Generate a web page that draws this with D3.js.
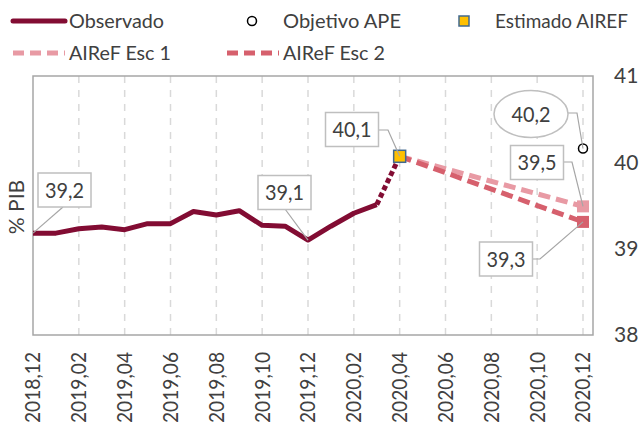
<!DOCTYPE html>
<html>
<head>
<meta charset="utf-8">
<script src="https://cdn.jsdelivr.net/npm/d3@7"></script>
<style>
  body { margin: 0; background: #fff; }
  text { font-family: Lato, "Open Sans", sans-serif; fill: #404040; }
</style>
</head>
<body>
<div id="chart"></div>
<script>
// DATA
let months = ['2018,12','2019,01','2019,02','2019,03','2019,04','2019,05','2019,06',
    '2019,07','2019,08','2019,09','2019,10','2019,11','2019,12','2020,01','2020,02',
    '2020,03','2020,04','2020,05','2020,06','2020,07','2020,08','2020,09','2020,10',
    '2020,11','2020,12'];

let observado = [39.18, 39.18, 39.23, 39.25, 39.22, 39.29, 39.29, 39.43, 39.39,
    39.44, 39.27, 39.26, 39.10, 39.26, 39.41, 39.51];

let estimadoMonth = '2020,04',
    estimadoValue = 40.07;

let escMonths = ['2020,04', '2020,12'];
let esc1 = [40.07, 39.49];
let esc2 = [40.07, 39.31];

let objetivoMonth = '2020,12',
    objetivoValue = 40.16;

let yTicks = [38, 39, 40, 41];
let legendNames = ['Observado', 'Objetivo APE', 'Estimado AIREF', 'AIReF Esc 1', 'AIReF Esc 2'];

// PLOTTING VARIABLES
let width = 639,
    height = 425;
let margin = {top: 76, right: 46, bottom: 90, left: 33};

let colObs = '#820c33',
    colEsc1 = '#e89aa4',
    colEsc2 = '#d6606d',
    colGrid = '#d9d9d9',
    colBorder = '#a6a6a6';

let svg = d3.select('#chart')
    .append('svg')
    .attr('width', width)
    .attr('height', height);

// Scales
let x = d3.scalePoint()
    .domain(months)
    .range([margin.left, 583]);

let y = d3.scaleLinear()
    .domain([38, 41])
    .range([height - margin.bottom, margin.top]);

// vertical dashed gridlines every 2 months
let gridMonths = months.filter((m, i) => i % 2 == 0 && i > 0);
svg.append('g')
    .selectAll('line')
    .data(gridMonths)
    .enter()
    .append('line')
    .attr('x1', d => x(d))
    .attr('x2', d => x(d))
    .attr('y1', margin.top)
    .attr('y2', height - margin.bottom)
    .attr('stroke', colGrid)
    .attr('stroke-width', 1.5)
    .attr('stroke-dasharray', '7,7');

// plot border
svg.append('rect')
    .attr('x', margin.left)
    .attr('y', margin.top)
    .attr('width', width - margin.right - margin.left)
    .attr('height', height - margin.bottom - margin.top)
    .attr('fill', 'none')
    .attr('stroke', colBorder)
    .attr('stroke-width', 1.5);

// x axis labels (rotated) - squeezed a bit so they stay inside the picture
let xLabelMonths = months.filter((m, i) => i % 2 == 0);
svg.append('g')
    .selectAll('text')
    .data(xLabelMonths)
    .enter()
    .append('text')
    .attr('transform', d => 'translate(' + x(d) + ',' + 352 + ') rotate(-90)')
    .attr('text-anchor', 'end')
    .attr('dy', '0.35em')
    .attr('textLength', 71)
    .attr('lengthAdjust', 'spacingAndGlyphs')
    .style('font-size', '21px')
    .text(d => d);

// y axis labels on the right
let yAxis = d3.axisRight(y).tickValues(yTicks).tickSize(0).tickPadding(0)
    .tickFormat(d3.format('d'));
let yG = svg.append('g')
    .attr('transform', 'translate(614,0)')
    .call(yAxis);
yG.select('.domain').remove();
yG.selectAll('text')
    .style('font-size', '21px')
    .style('font-family', 'Lato, sans-serif')
    .attr('fill', '#404040');

// y title
svg.append('text')
    .attr('transform', 'translate(17,207) rotate(-90)')
    .attr('text-anchor', 'middle')
    .attr('dy', '0.35em')
    .style('font-size', '21px')
    .text('% PIB');

// Lines
let line = d3.line()
    .x(d => x(d[0]))
    .y(d => y(d[1]));

let obsPts = observado.map((v, i) => [months[i], v]);
svg.append('path')
    .attr('d', line(obsPts))
    .attr('fill', 'none')
    .attr('stroke', colObs)
    .attr('stroke-width', 5)
    .attr('stroke-linejoin', 'round');

// dotted link from last observed to estimate
svg.append('path')
    .attr('d', line([obsPts[obsPts.length - 1], [estimadoMonth, estimadoValue]]))
    .attr('fill', 'none')
    .attr('stroke', colObs)
    .attr('stroke-width', 5)
    .attr('stroke-dasharray', '5,3');

let escSeries = [
    {vals: esc1, color: colEsc1},
    {vals: esc2, color: colEsc2}
];
escSeries.forEach(s => {
    let pts = s.vals.map((v, i) => [escMonths[i], v]);
    svg.append('path')
        .attr('d', line(pts))
        .attr('fill', 'none')
        .attr('stroke', s.color)
        .attr('stroke-width', 5)
        .attr('stroke-dasharray', '12,6');
    let last = pts[pts.length - 1];
    svg.append('rect')
        .attr('x', x(last[0]) - 6)
        .attr('y', y(last[1]) - 6)
        .attr('width', 12)
        .attr('height', 12)
        .attr('fill', s.color);
});

// Estimado marker
svg.append('rect')
    .attr('x', x(estimadoMonth) - 6)
    .attr('y', y(estimadoValue) - 6)
    .attr('width', 12)
    .attr('height', 12)
    .attr('fill', '#ffc000')
    .attr('stroke', '#41698f')
    .attr('stroke-width', 1.5);

// Objetivo marker
svg.append('circle')
    .attr('cx', x(objetivoMonth))
    .attr('cy', y(objetivoValue))
    .attr('r', 4.5)
    .attr('fill', '#fff')
    .attr('stroke', '#000')
    .attr('stroke-width', 1.5);

// DATA LABELS
let fmt = v => d3.format('.1f')(v).replace('.', ',');

let labels = [
    {px: x(months[0]), py: y(observado[0]), text: fmt(observado[0]), cx: 64.5, cy: 190,
        leader: [[63, 207]]},
    {px: x(months[12]), py: y(observado[12]), text: fmt(observado[12]), cx: 284.5, cy: 192.5,
        leader: [[285, 209]]},
    {px: x(estimadoMonth), py: y(estimadoValue), text: fmt(estimadoValue), cx: 352, cy: 129.5,
        leader: [[378, 130], [388, 130]]},
    {px: x(escMonths[1]), py: y(esc1[1]), text: fmt(esc1[1]), cx: 537, cy: 162.5,
        leader: [[563, 162], [572, 162]]},
    {px: x(escMonths[1]), py: y(esc2[1]), text: fmt(esc2[1]), cx: 506, cy: 259,
        leader: [[532, 259], [540, 259]]},
    {px: x(objetivoMonth), py: y(objetivoValue), text: fmt(objetivoValue), cx: 531, cy: 114,
        leader: [[568, 113], [577, 113]], ellipse: true}
];

let lbl = svg.append('g');
labels.forEach(l => {
    let pts = l.leader.concat([[l.px, l.py]]);
    lbl.append('path')
        .attr('d', d3.line()(pts))
        .attr('fill', 'none')
        .attr('stroke', colBorder)
        .attr('stroke-width', 1.2);
    if (l.ellipse) {
        lbl.append('ellipse')
            .attr('cx', l.cx).attr('cy', l.cy)
            .attr('rx', 37).attr('ry', 23.5)
            .attr('fill', '#fff')
            .attr('stroke', '#bfbfbf')
            .attr('stroke-width', 1.5);
    } else {
        lbl.append('rect')
            .attr('x', l.cx - 26.5).attr('y', l.cy - 17)
            .attr('width', 53).attr('height', 34)
            .attr('fill', '#fff')
            .attr('stroke', '#bfbfbf')
            .attr('stroke-width', 1.5);
    }
    lbl.append('text')
        .attr('x', l.cx)
        .attr('y', l.cy)
        .attr('dy', '0.36em')
        .attr('text-anchor', 'middle')
        .attr('textLength', 39)
        .attr('lengthAdjust', 'spacingAndGlyphs')
        .style('font-size', '22px')
        .text(l.text);
});

// LEGEND
let legend = svg.append('g');
let legendItems = [
    {name: legendNames[0], type: 'line', color: colObs, x: 13, y: 21, tx: 69, w: 95},
    {name: legendNames[1], type: 'circle', x: 252, y: 21, tx: 283, w: 118},
    {name: legendNames[2], type: 'square', x: 464, y: 21, tx: 495, w: 133},
    {name: legendNames[3], type: 'dash', color: colEsc1, x: 13, y: 53, tx: 69, w: 102},
    {name: legendNames[4], type: 'dash', color: colEsc2, x: 227, y: 53, tx: 283, w: 102}
];
legendItems.forEach(d => {
    if (d.type == 'line' || d.type == 'dash') {
        legend.append('line')
            .attr('x1', d.x).attr('x2', d.x + 52)
            .attr('y1', d.y).attr('y2', d.y)
            .attr('stroke', d.color)
            .attr('stroke-width', 5)
            .attr('stroke-linecap', d.type == 'line' ? 'round' : 'butt')
            .attr('stroke-dasharray', d.type == 'dash' ? '11,6' : null);
    } else if (d.type == 'circle') {
        legend.append('circle')
            .attr('cx', d.x).attr('cy', d.y).attr('r', 4.5)
            .attr('fill', '#fff').attr('stroke', '#000').attr('stroke-width', 1.5);
    } else {
        legend.append('rect')
            .attr('x', d.x - 5).attr('y', d.y - 5)
            .attr('width', 10).attr('height', 10)
            .attr('fill', '#ffc000').attr('stroke', '#41698f').attr('stroke-width', 1.5);
    }
    legend.append('text')
        .attr('x', d.tx)
        .attr('y', d.y)
        .attr('dy', '0.35em')
        .attr('textLength', d.w)
        .attr('lengthAdjust', 'spacingAndGlyphs')
        .style('font-size', '20px')
        .text(d.name);
});
</script>
</body>
</html>
